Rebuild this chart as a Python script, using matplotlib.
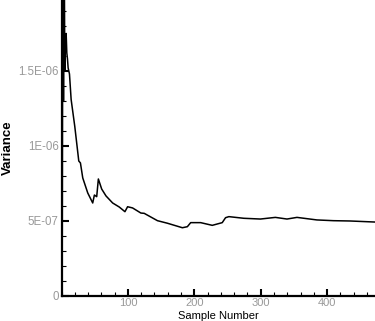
import matplotlib
matplotlib.use("Agg")
import matplotlib.pyplot as plt
from matplotlib.ticker import FixedLocator, FixedFormatter, MultipleLocator

plt.rcParams['font.family'] = ['Liberation Sans', 'DejaVu Sans']

# Data (sample number, variance)
samples = [1, 2, 3, 4, 5, 6, 7, 8, 9, 10, 12, 14.5, 20, 26, 28.5, 32, 39.5, 47, 49.5,
           53, 55.5, 60.5, 67, 77, 87, 95.5, 99.5, 107, 119.5, 124.5, 144.5, 159.5,
           182, 189.5, 194.5, 209.5, 227, 242, 247, 252, 274.5, 299.5, 322, 339.5,
           354.5, 384.5, 409.5, 434.5, 472]
variance = [0.05e-6, 2.6e-6, 1.3e-6, 2.4e-6, 1.5e-6, 1.72e-6, 1.75e-6, 1.62e-6, 1.58e-6,
            1.52e-6, 1.48e-6, 1.31e-6, 1.13e-6, 0.90e-6, 0.887e-6, 0.787e-6, 0.687e-6,
            0.62e-6, 0.673e-6, 0.662e-6, 0.78e-6, 0.713e-6, 0.667e-6, 0.62e-6, 0.593e-6,
            0.562e-6, 0.595e-6, 0.587e-6, 0.553e-6, 0.551e-6, 0.502e-6, 0.485e-6,
            0.455e-6, 0.462e-6, 0.489e-6, 0.489e-6, 0.471e-6, 0.489e-6, 0.522e-6,
            0.529e-6, 0.518e-6, 0.513e-6, 0.524e-6, 0.513e-6, 0.524e-6, 0.507e-6,
            0.502e-6, 0.50e-6, 0.493e-6]

y_ticks = [0, 5e-7, 1e-6, 1.5e-6]
y_tick_labels = ['0', '5E-07', '1E-06', '1.5E-06']
x_ticks = [100, 200, 300, 400]
x_tick_labels = ['100', '200', '300', '400']

fig = plt.figure(figsize=(3.75, 3.21), dpi=100)
ax = fig.add_axes([61.5 / 375, 25 / 321, 1 - 61.5 / 375, 1 - 25 / 321])
ax.plot(samples, variance, color='black', lw=1.1)
ax.set_xlim(0, 472)
ax.set_ylim(0, 1.973e-6)

ax.yaxis.set_major_locator(FixedLocator(y_ticks))
ax.yaxis.set_major_formatter(FixedFormatter(y_tick_labels))
ax.yaxis.set_minor_locator(MultipleLocator(1e-7))
ax.xaxis.set_major_locator(FixedLocator(x_ticks))
ax.xaxis.set_major_formatter(FixedFormatter(x_tick_labels))
ax.xaxis.set_minor_locator(MultipleLocator(20))

for s in ['top', 'right']:
    ax.spines[s].set_visible(False)
for s in ['left', 'bottom']:
    ax.spines[s].set_linewidth(1.6)

ax.tick_params(which='major', direction='in', length=5, width=1.5,
               labelsize=8.3, labelcolor='#999999', pad=2)
ax.tick_params(axis='x', which='major', labelsize=8, pad=1.5)
ax.tick_params(which='minor', direction='in', length=3, width=0.8)
ax.tick_params(top=False, right=False, which='both')

ax.set_xlabel('Sample Number', fontsize=8)
ax.xaxis.set_label_coords(0.5, -0.05)
ax.set_ylabel('Variance', fontsize=9.5, fontweight='bold')
ax.yaxis.set_label_coords(-0.152, 0.5)

fig.savefig('out.png', dpi=100)
